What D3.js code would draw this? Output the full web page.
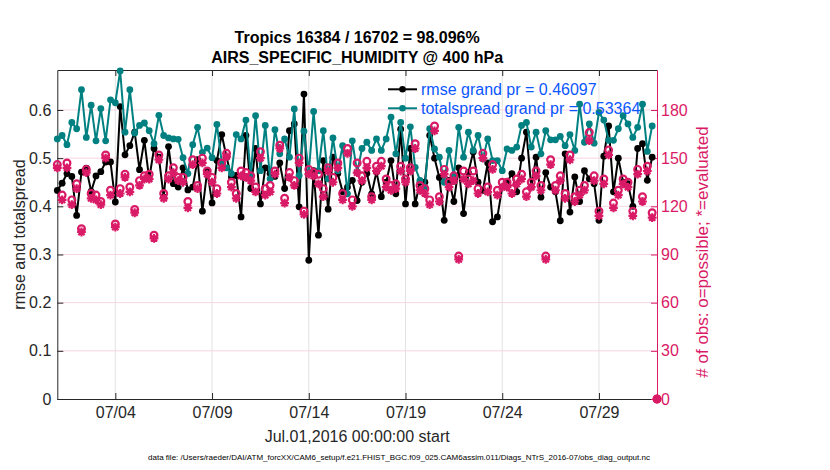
<!DOCTYPE html>
<html><head><meta charset="utf-8">
<script src="https://cdn.jsdelivr.net/npm/d3@7"></script>
<style>
body{margin:0;background:#fff}
svg{display:block}
text{font-family:"Liberation Sans",Arial,Helvetica,sans-serif}
</style>
</head><body>
<svg id="c" width="830" height="470"></svg>
<script>
// ---------------- data ----------------
const rmse = [0.433,0.448,0.468,0.462,0.381,0.471,0.479,0.431,0.463,0.472,
 0.492,0.492,0.409,0.607,0.507,0.526,0.554,0.476,0.537,0.457,
 0.520,0.502,0.419,0.524,0.447,0.440,0.480,0.434,0.440,0.497,
 0.390,0.474,0.407,0.495,0.549,0.502,0.461,0.464,0.378,0.547,
 0.437,0.520,0.405,0.480,0.468,0.462,0.490,0.437,0.557,0.571,
 0.399,0.633,0.288,0.474,0.340,0.495,0.394,0.502,0.468,0.430,
 0.440,0.454,0.412,0.450,0.468,0.426,0.472,0.420,0.450,0.495,
 0.426,0.560,0.405,0.520,0.405,0.450,0.450,0.547,0.500,0.460,
 0.371,0.454,0.410,0.480,0.385,0.470,0.513,0.450,0.433,0.490,
 0.368,0.378,0.440,0.450,0.468,0.430,0.500,0.554,0.440,0.502,
 0.419,0.470,0.440,0.430,0.370,0.509,0.388,0.461,0.410,0.474,
 0.457,0.447,0.371,0.504,0.567,0.430,0.500,0.450,0.447,0.400,
 0.520,0.530,0.454,0.502, null];

const totalspread = [0.540,0.547,0.528,0.574,0.561,0.642,0.543,0.610,0.536,0.603,
 0.536,0.621,0.615,0.681,0.554,0.642,0.552,0.568,0.573,0.557,
 0.530,0.589,0.547,0.542,0.540,0.539,0.501,0.468,0.528,0.564,
 0.512,0.521,0.501,0.570,0.492,0.480,0.468,0.549,0.540,0.579,
 0.465,0.588,0.474,0.568,0.457,0.559,0.509,0.540,0.502,0.602,
 0.464,0.556,0.470,0.597,0.474,0.557,0.457,0.542,0.474,0.526,
 0.426,0.536,0.470,0.520,0.533,0.516,0.540,0.516,0.540,0.585,
 0.509,0.574,0.500,0.565,0.481,0.454,0.440,0.561,0.519,0.502,
 0.450,0.516,0.464,0.564,0.502,0.554,0.516,0.547,0.499,0.540,
 0.495,0.495,0.474,0.519,0.516,0.523,0.568,0.574,0.523,0.554,
 0.509,0.557,0.538,0.538,0.545,0.526,0.549,0.516,0.612,0.533,
 0.571,0.531,0.595,0.579,0.537,0.537,0.561,0.588,0.571,0.543,
 0.564,0.612,0.514,0.567, null];

const obsPossible = [146,127,147,124,134,106,143,128,127,123,
 152,130,109,131,140,132,118,136,139,140,
 102,152,128,139,144,138,138,123,149,133,
 150,142,138,131,147,153,135,128,142,141,
 139,132,154,131,133,142,158,125,141,136,
 150,117,143,141,140,131,144,138,147,128,
 156,124,147,139,148,126,145,148,137,133,
 134,145,137,144,159,133,131,124,170,126,
 143,135,139,89,142,137,142,131,153,132,
 146,130,135,135,131,137,140,129,135,142,
 133,89,149,133,139,128,152,126,130,133,
 166,139,117,137,155,122,130,137,135,117,
 143,126,145,116,0];

const obsEvaluated = [144,124,144,121,131,104,141,125,124,121,
 150,127,107,128,138,129,116,133,137,137,
 100,149,125,137,141,136,135,119,146,131,
 147,140,135,128,144,151,132,125,139,138,
 136,129,150,127,129,140,156,122,138,133,
 147,115,140,139,134,126,142,135,144,124,
 153,120,141,136,144,124,142,145,132,130,
 131,142,135,142,156,130,128,121,167,123,
 140,132,136,87,137,134,136,128,150,129,
 143,127,132,132,128,134,137,126,132,139,
 130,87,146,130,136,125,149,123,127,130,
 161,136,114,134,152,119,127,134,132,114,
 140,123,142,113,0];

const binStartUTC = [2016, 6, 1];   // Jul 01 2016 00:00 UTC (month is 0-based)
const binHours = 6;
const axisEndUTC = [2016, 7, 1];    // Aug 01 2016 00:00 UTC
const xTickLabels = ["07/04","07/09","07/14","07/19","07/24","07/29"];
const yLeftTicks = [0,0.1,0.2,0.3,0.4,0.5,0.6];
const yRightTicks = [0,30,60,90,120,150,180];
const yLeftMax = 0.683;
const yRightMax = 204.9;

const titleLines = ["Tropics 16384 / 16702 = 98.096%","AIRS_SPECIFIC_HUMIDITY @ 400 hPa"];
const legendLabels = ["rmse grand pr = 0.46097","totalspread grand pr = 0.53364"];
const xLabel = "Jul.01,2016 00:00:00 start";
const yLabelLeft = "rmse and totalspread";
const yLabelRight = "# of obs: o=possible; *=evaluated";
const footer = "data file: /Users/raeder/DAI/ATM_forcXX/CAM6_setup/f.e21.FHIST_BGC.f09_025.CAM6assim.011/Diags_NTrS_2016-07/obs_diag_output.nc";

// ---------------- styles ----------------
const C_AX = "#262626", C_RMSE = "#000000", C_SPREAD = "#008080",
      C_OBS = "#d91a66", C_LEG = "#0b57ff";

// ---------------- drawing ----------------
const svg = d3.select("#c");
svg.append("rect").attr("width",830).attr("height",470).attr("fill","#fff");
const P = {l:57.3, r:657, t:70, b:399};

const t0 = Date.UTC(...binStartUTC);
const times = obsPossible.map((_, i) => new Date(t0 + i*binHours*3600e3));
const x = d3.scaleUtc().domain([new Date(t0), new Date(Date.UTC(...axisEndUTC))]).range([P.l, P.r]);
const yL = d3.scaleLinear().domain([0, yLeftMax]).range([P.b, P.t]);
const yR = d3.scaleLinear().domain([0, yRightMax]).range([P.b, P.t]);
const tickDates = xTickLabels.map(s => { const [mm, dd] = s.split("/").map(Number); return new Date(Date.UTC(2016, mm-1, dd)); });

// grid
const grid = svg.append("g");
grid.selectAll("line.v").data(tickDates).join("line")
  .attr("x1", d => x(d)).attr("x2", d => x(d)).attr("y1", P.t).attr("y2", P.b)
  .attr("stroke", "#e2e2e2").attr("stroke-width", 1);
grid.selectAll("line.h").data(yRightTicks.filter(d => d > 0)).join("line")
  .attr("x1", P.l).attr("x2", P.r).attr("y1", d => yR(d)).attr("y2", d => yR(d))
  .attr("stroke", "#f6d6e2").attr("stroke-width", 1);

// axes
const fmtL = d => d === 0 ? "0" : d3.format(".1f")(d);
const gx = svg.append("g").attr("transform", `translate(0,${P.b})`)
  .call(d3.axisBottom(x).tickValues(tickDates).tickFormat((d, i) => xTickLabels[i]).tickSizeInner(-6).tickSizeOuter(0).tickPadding(8));
const gxt = svg.append("g").attr("transform", `translate(0,${P.t})`)
  .call(d3.axisTop(x).tickValues(tickDates).tickFormat("").tickSizeInner(-6).tickSizeOuter(0));
const gl = svg.append("g").attr("transform", `translate(${P.l},0)`)
  .call(d3.axisLeft(yL).tickValues(yLeftTicks).tickFormat(fmtL).tickSizeInner(-6).tickSizeOuter(0).tickPadding(6));
const gr = svg.append("g").attr("transform", `translate(${P.r},0)`)
  .call(d3.axisRight(yR).tickValues(yRightTicks).tickFormat(d3.format("d")).tickSizeInner(-6).tickSizeOuter(0).tickPadding(4));
[gx, gxt, gl].forEach(g => {
  g.selectAll("path,line").attr("stroke", C_AX);
  g.selectAll("text").attr("fill", C_AX).style("font-size", "16px");
});
gr.selectAll("path,line").attr("stroke", C_OBS);
gr.selectAll("text").attr("fill", C_OBS).style("font-size", "16px");

// series lines
const line = yS => d3.line().defined(d => d.v != null).x(d => x(d.t)).y(d => yS(d.v));
const rm = rmse.map((v, i) => ({t: times[i], v}));
const sp = totalspread.map((v, i) => ({t: times[i], v}));

function drawSeries(data, color) {
  const g = svg.append("g");
  g.append("path").datum(data).attr("d", line(yL)).attr("fill", "none")
    .attr("stroke", color).attr("stroke-width", 2).attr("stroke-linejoin", "round");
  g.selectAll("circle").data(data.filter(d => d.v != null)).join("circle")
    .attr("cx", d => x(d.t)).attr("cy", d => yL(d.v)).attr("r", 3.4).attr("fill", color);
}
drawSeries(rm, C_RMSE);
drawSeries(sp, C_SPREAD);

// obs counts
const og = svg.append("g").attr("fill", "none").attr("stroke", C_OBS).attr("stroke-width", 2.2);
og.selectAll("circle").data(obsPossible.map((v, i) => ({t: times[i], v}))).join("circle")
  .attr("cx", d => x(d.t)).attr("cy", d => yR(d.v)).attr("r", 3.4);
const s = 4.4, s2 = s * Math.SQRT1_2;
const starPath = `M${-s},0L${s},0M0,${-s}L0,${s}M${-s2},${-s2}L${s2},${s2}M${-s2},${s2}L${s2},${-s2}`;
og.selectAll("path").data(obsEvaluated.map((v, i) => ({t: times[i], v}))).join("path")
  .attr("transform", d => `translate(${x(d.t)},${yR(d.v)})`).attr("d", starPath);

// legend
const lg = svg.append("g");
[[C_RMSE, 89.3], [C_SPREAD, 108.3]].forEach(([c, yy], i) => {
  lg.append("line").attr("x1", 388).attr("x2", 417).attr("y1", yy).attr("y2", yy)
    .attr("stroke", c).attr("stroke-width", 2);
  lg.append("circle").attr("cx", 402.5).attr("cy", yy).attr("r", 3.3).attr("fill", c);
  lg.append("text").attr("x", 421).attr("y", yy).attr("dy", "0.36em")
    .attr("fill", C_LEG).style("font-size", "16px").text(legendLabels[i]);
});

// titles & labels
const cx = (P.l + P.r) / 2;
svg.append("text").attr("x", cx).attr("y", 42.5).attr("text-anchor", "middle")
  .style("font-size", "16px").style("font-weight", "bold").attr("fill", "#000").text(titleLines[0]);
svg.append("text").attr("x", cx).attr("y", 62.5).attr("text-anchor", "middle")
  .style("font-size", "16px").style("font-weight", "bold").attr("fill", "#000").text(titleLines[1]);
svg.append("text").attr("x", cx).attr("y", 441.5).attr("text-anchor", "middle")
  .style("font-size", "16px").attr("fill", C_AX).text(xLabel);
svg.append("text").attr("transform", `translate(24.5,${(P.t + P.b) / 2}) rotate(-90)`)
  .attr("text-anchor", "middle").style("font-size", "16px").attr("fill", C_AX).text(yLabelLeft);
svg.append("text").attr("transform", `translate(708,252) rotate(-90)`)
  .attr("text-anchor", "middle").style("font-size", "17px").attr("fill", C_OBS).text(yLabelRight);
svg.append("text").attr("x", 399).attr("y", 460).attr("text-anchor", "middle")
  .style("font-size", "8px").attr("fill", "#000").text(footer);
</script>
</body></html>
